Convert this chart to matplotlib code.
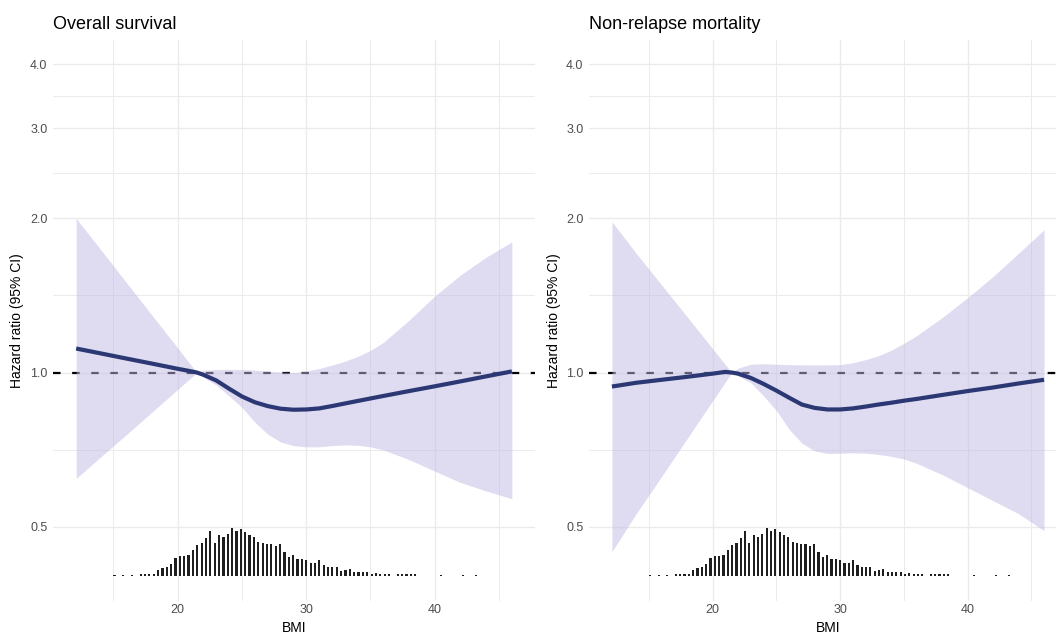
import numpy as np
import matplotlib.pyplot as plt
from matplotlib.ticker import FixedLocator, FixedFormatter, NullFormatter

plt.rcParams['font.family'] = ['Liberation Sans', 'DejaVu Sans']

# BMI values where the spline estimates were read off
bmi = [12.1, 14, 16, 18, 20, 21, 21.5, 22, 23, 24, 25, 26, 27, 28, 29, 30,
       31, 32, 33, 34, 35, 36, 38, 40, 42, 44, 46]

# Overall survival: hazard ratio and 95% CI
os_hr = [1.114, 1.090, 1.065, 1.041, 1.017, 1.006, 1.000, 0.990, 0.965, 0.930,
         0.898, 0.875, 0.860, 0.850, 0.846, 0.847, 0.851, 0.860, 0.870, 0.880,
         0.890, 0.900, 0.920, 0.940, 0.961, 0.983, 1.005]
os_lo = [0.621, 0.684, 0.756, 0.837, 0.927, 0.975, 1.000, 0.980, 0.945, 0.900,
         0.855, 0.800, 0.758, 0.732, 0.720, 0.716, 0.716, 0.720, 0.722, 0.721,
         0.716, 0.706, 0.676, 0.642, 0.610, 0.587, 0.567]
os_hi = [2.000, 1.739, 1.500, 1.294, 1.117, 1.037, 1.000, 1.010, 1.014, 1.014,
         1.014, 1.011, 1.006, 1.002, 1.000, 1.006, 1.018, 1.034, 1.052, 1.075,
         1.105, 1.145, 1.265, 1.410, 1.550, 1.680, 1.800]

# Non-relapse mortality: hazard ratio and 95% CI
nrm_hr = [0.939, 0.955, 0.968, 0.981, 0.995, 1.003, 1.000, 0.995, 0.976, 0.950,
          0.922, 0.893, 0.866, 0.853, 0.847, 0.847, 0.851, 0.858, 0.866, 0.873,
          0.881, 0.888, 0.904, 0.920, 0.935, 0.952, 0.968]
nrm_lo = [0.447, 0.530, 0.627, 0.743, 0.881, 0.958, 1.000, 0.985, 0.955, 0.900,
          0.843, 0.775, 0.728, 0.703, 0.695, 0.696, 0.697, 0.696, 0.692, 0.686,
          0.678, 0.665, 0.632, 0.596, 0.562, 0.530, 0.491]
nrm_hi = [1.970, 1.710, 1.482, 1.285, 1.113, 1.036, 1.000, 1.020, 1.038, 1.040,
          1.038, 1.036, 1.035, 1.035, 1.035, 1.036, 1.045, 1.060, 1.078, 1.105,
          1.140, 1.180, 1.280, 1.400, 1.540, 1.710, 1.900]

# BMI distribution (histogram counts, first bin centred at HIST_START)
HIST_START = 15.086
HIST_WIDTH = 0.339
hist_counts = [1, 0, 1, 0, 1, 0,
               3, 3, 2, 3, 8, 10, 12, 15, 23, 25,
               25, 27, 33, 39, 42, 48, 57, 42, 52, 50,
               53, 61, 57, 60, 56, 52, 50, 43, 42, 40,
               41, 38, 40, 31, 24, 27, 22, 22, 20, 16,
               16, 20, 14, 11, 11, 11, 6, 7, 9, 5,
               5, 5, 5, 3, 4, 3, 3, 2, 0, 2,
               2, 2, 3, 2, 0, 0, 0, 0, 0, 1,
               0, 0, 0, 0, 1, 0, 0, 1]

y_ticks = [0.5, 1.0, 2.0, 3.0, 4.0]
y_labels = ['0.5', '1.0', '2.0', '3.0', '4.0']
x_ticks = [20, 30, 40]

FILL = '#c1b9e5'
LINE = '#2b3874'
GRID = '#ebebeb'

W, H = 1056, 635
fig = plt.figure(figsize=(W / 100, H / 100), dpi=100)


def panel(rect, title, hr, lo, hi):
    ax = fig.add_axes(rect)
    ax.set_yscale('log')
    ax.set_xlim(10.3, 47.8)
    ax.set_ylim(0.358, 4.46)

    ax.yaxis.set_major_locator(FixedLocator(y_ticks))
    ax.yaxis.set_major_formatter(FixedFormatter(y_labels))
    minor_y = [np.sqrt(a * b) for a, b in zip(y_ticks[:-1], y_ticks[1:])]
    ax.yaxis.set_minor_locator(FixedLocator(minor_y))
    ax.yaxis.set_minor_formatter(NullFormatter())
    ax.xaxis.set_major_locator(FixedLocator(x_ticks))
    ax.xaxis.set_minor_locator(FixedLocator([15, 25, 35, 45]))

    ax.set_axisbelow(True)
    ax.grid(which='major', color=GRID, lw=1.0)
    ax.grid(which='minor', color=GRID, lw=0.7)
    for s in ax.spines.values():
        s.set_visible(False)
    ax.tick_params(which='both', length=0, labelsize=9, labelcolor='#4d4d4d')
    ax.tick_params(axis='y', pad=4)
    ax.tick_params(axis='x', pad=2)

    ax.axhline(1.0, color='black', lw=1.6, ls=(0, (3.4, 5.2)), zorder=1.5)
    ax.fill_between(bmi, lo, hi, color=FILL, alpha=0.5, lw=0, zorder=2)
    ax.plot(bmi, hr, color=LINE, lw=3.0, solid_capstyle='butt', zorder=3)

    ax.set_xlabel('BMI', fontsize=10)
    ax.xaxis.set_label_coords(0.5, -0.048)
    ax.xaxis.label.set_va('center')
    ax.set_ylabel('Hazard ratio (95% CI)', fontsize=10)
    ax.yaxis.set_label_coords(-0.074, 0.5)
    ax.yaxis.label.set_va('center')

    # BMI histogram along the bottom of the panel
    ax2 = ax.twinx()
    centers = HIST_START + HIST_WIDTH * np.arange(len(hist_counts))
    ax2.bar(centers, hist_counts, width=0.17, color='#1e1e1e', lw=0)
    ax2.set_ylim(-31.9, 682)
    ax2.set_yticks([])
    for s in ax2.spines.values():
        s.set_visible(False)

    fig.text(rect[0], 1 - 29 / H, title, fontsize=13, va='baseline', ha='left')
    return ax


panel([53 / W, 34 / H, 482 / W, 561 / H], 'Overall survival',
      os_hr, os_lo, os_hi)
panel([589 / W, 34 / H, 478 / W, 561 / H], 'Non-relapse mortality',
      nrm_hr, nrm_lo, nrm_hi)

fig.savefig('out.png', dpi=100)
